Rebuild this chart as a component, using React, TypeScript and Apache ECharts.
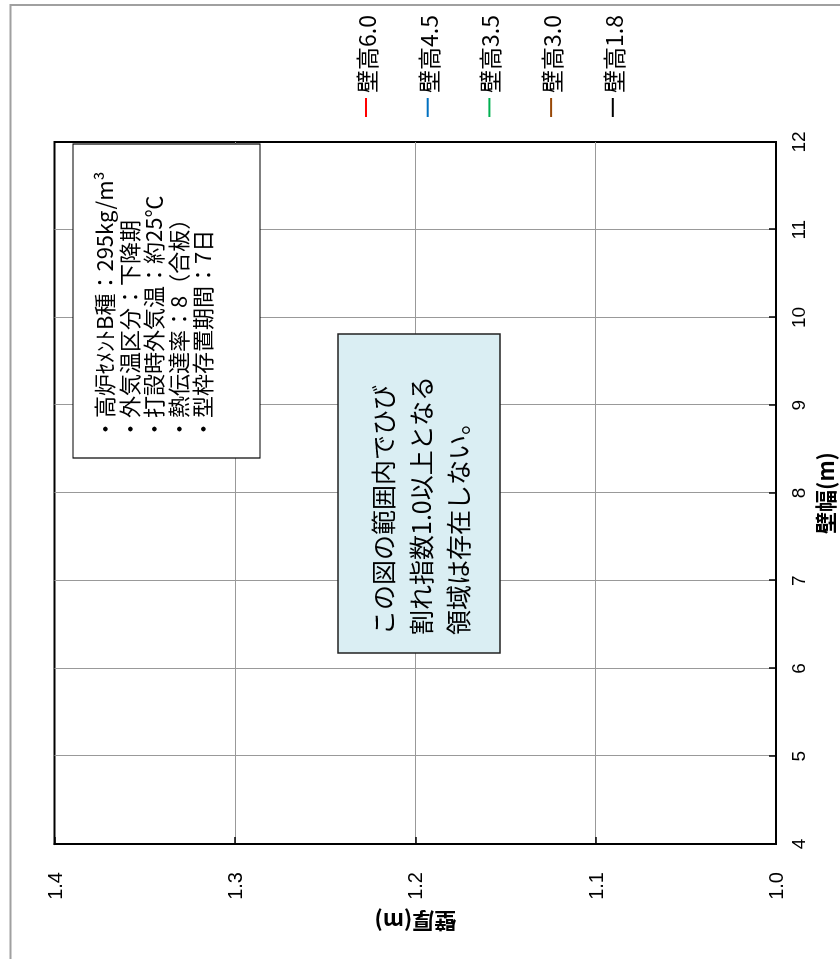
import React, { useEffect, useRef } from 'react';
import * as echarts from 'echarts';

// ---- data ----
const seriesNames = ['壁高6.0', '壁高4.5', '壁高3.5', '壁高3.0', '壁高1.8'];
const seriesColors = ['#FF0000', '#0070C0', '#00B050', '#984807', '#000000'];
const seriesWidths = [2, 2, 2, 2, 3];
// No crack-index >= 1.0 region exists inside the plotted range: every curve is empty.
const wallHeight60: [number, number][] = [];
const wallHeight45: [number, number][] = [];
const wallHeight35: [number, number][] = [];
const wallHeight30: [number, number][] = [];
const wallHeight18: [number, number][] = [];
const seriesData = [wallHeight60, wallHeight45, wallHeight35, wallHeight30, wallHeight18];

const wallWidthMin = 4;
const wallWidthMax = 12;
const wallWidthStep = 1;
const wallThickMin = 1.0;
const wallThickMax = 1.4;
const wallThickStep = 0.1;

const xAxisTitle = '壁幅(m)';
const yAxisTitle = '壁厚(m)';

const conditionLines = [
  '・高炉ｾﾒﾝﾄB種：295kg/m³',
  '・外気温区分：下降期',
  '・打設時外気温：約25℃',
  '・熱伝達率：8（合板）',
  '・型枠存置期間：7日',
];
const noteLines = ['この図の範囲内でひび', '割れ指数1.0以上となる', '領域は存在しない。'];

const CJK = "'Noto Sans CJK JP', 'Noto Sans CJK SC', sans-serif";
const LAT = "'Liberation Sans', Arial, 'Noto Sans CJK JP', sans-serif";

export default function App() {
  const ref = useRef<HTMLDivElement>(null);

  useEffect(() => {
    if (!ref.current) return;
    const chart = echarts.init(ref.current, null, { renderer: 'svg' });
    chart.setOption({
      animation: false,
      backgroundColor: '#ffffff',
      grid: {
        left: 115,
        right: 142,
        top: 54.5,
        bottom: 58,
        show: true,
        borderColor: '#000',
        borderWidth: 2,
        backgroundColor: 'transparent',
      },
      legend: {
        orient: 'vertical',
        left: 837,
        top: 349.5,
        itemGap: 38.7,
        itemWidth: 19,
        itemHeight: 2,
        icon: 'rect',
        data: seriesNames,
        textStyle: { fontSize: 23, fontFamily: CJK, color: '#000', lineHeight: 23 },
      },
      xAxis: {
        type: 'value',
        min: wallWidthMin,
        max: wallWidthMax,
        interval: wallWidthStep,
        position: 'bottom',
        name: xAxisTitle,
        nameLocation: 'middle',
        nameGap: 34,
        nameTextStyle: { fontSize: 22, fontWeight: 'bold', fontFamily: CJK, color: '#000' },
        axisLine: { show: true, lineStyle: { color: '#000', width: 2 } },
        axisTick: { show: true, inside: true, length: 7, lineStyle: { color: '#000', width: 1.5 } },
        axisLabel: { fontSize: 19, fontFamily: LAT, color: '#000', margin: 13 },
        splitLine: { show: true, showMinLine: false, showMaxLine: false, lineStyle: { color: '#999', width: 1 } },
      },
      yAxis: {
        type: 'value',
        min: wallThickMin,
        max: wallThickMax,
        interval: wallThickStep,
        position: 'left',
        name: yAxisTitle,
        nameLocation: 'middle',
        nameGap: 68,
        nameTextStyle: { fontSize: 22, fontWeight: 'bold', fontFamily: CJK, color: '#000' },
        axisLine: { show: true, lineStyle: { color: '#000', width: 2 } },
        axisTick: { show: true, inside: true, length: 7, lineStyle: { color: '#000', width: 1.5 } },
        axisLabel: {
          fontSize: 20,
          fontFamily: LAT,
          color: '#000',
          margin: 28,
          formatter: (v: number) => v.toFixed(1),
        },
        splitLine: { show: true, showMinLine: false, showMaxLine: false, lineStyle: { color: '#999', width: 1 } },
      },
      series: seriesNames.map((name, i) => ({
        name,
        type: 'line',
        data: seriesData[i],
        symbol: 'none',
        color: seriesColors[i],
        lineStyle: { color: seriesColors[i], width: seriesWidths[i] },
      })),
      graphic: [
        {
          type: 'rect',
          z: 1,
          silent: true,
          shape: { x: -20, y: 10.5, width: 974, height: 900 },
          style: { fill: 'none', stroke: '#a0a0a0', lineWidth: 2 },
        },
        {
          type: 'rect',
          z: 100,
          shape: { x: 501, y: 73, width: 314, height: 187 },
          style: { fill: '#ffffff', stroke: '#000', lineWidth: 1.2 },
        },
        {
          type: 'text',
          z: 101,
          x: 519,
          y: 90.75,
          style: {
            text: conditionLines.join('\n'),
            fontSize: 22,
            fontFamily: CJK,
            lineHeight: 24.5,
            fill: '#000',
            align: 'left',
            verticalAlign: 'top',
          },
        },
        {
          type: 'rect',
          z: 100,
          shape: { x: 306, y: 338, width: 319, height: 162 },
          style: { fill: '#DAEEF3', stroke: '#222', lineWidth: 1.5 },
        },
        {
          type: 'text',
          z: 101,
          x: 324,
          y: 363.25,
          style: {
            text: noteLines.join('\n'),
            fontSize: 25,
            fontFamily: CJK,
            lineHeight: 37.5,
            fill: '#000',
            align: 'left',
            verticalAlign: 'top',
          },
        },
      ],
    });
    return () => chart.dispose();
  }, []);

  return (
    <div
      ref={ref}
      style={{
        position: 'fixed',
        left: 0,
        top: 0,
        width: 959,
        height: 840,
        transformOrigin: '0 0',
        transform: 'translate(0px, 959px) rotate(-90deg)',
        background: '#fff',
      }}
    />
  );
}
